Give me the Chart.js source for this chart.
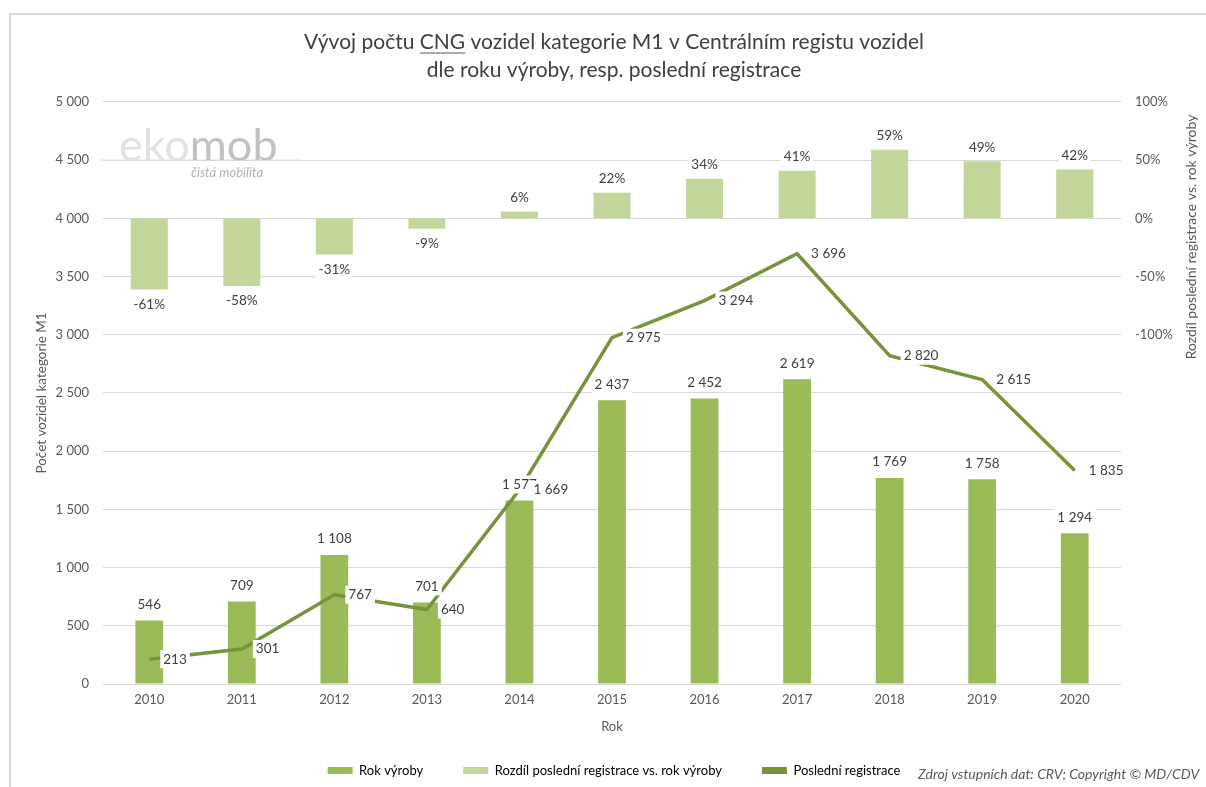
<!DOCTYPE html>
<html><head><meta charset="utf-8">
<script src="https://cdn.jsdelivr.net/npm/chart.js@4.4.1/dist/chart.umd.min.js"></script>
<style>html,body{margin:0;padding:0;background:#fff}#wrap{width:1206px;height:787px;position:relative}</style>
</head><body><div id="wrap"><canvas id="c" width="1206" height="787"></canvas></div>
<script>
const years = ['2010','2011','2012','2013','2014','2015','2016','2017','2018','2019','2020'];
const rokVyroby = [546, 709, 1108, 701, 1577, 2437, 2452, 2619, 1769, 1758, 1294];
const rozdil = [-61, -58, -31, -9, 6, 22, 34, 41, 59, 49, 42];
const posledniRegistrace = [213, 301, 767, 640, 1669, 2975, 3294, 3696, 2820, 2615, 1835];
const titleLines = ['Vývoj počtu CNG vozidel kategorie M1 v Centrálním registu vozidel', 'dle roku výroby, resp. poslední registrace'];
const rightTitle = 'Rozdíl poslední registrace vs. rok výroby';
const sourceText = 'Zdroj vstupních dat: CRV; Copyright © MD/CDV';

const FONT = 'Lato, "Open Sans", sans-serif';
const fmt = v => String(v).replace(/\B(?=(\d{3})+(?!\d))/g, ' ');

function boxLabel(ctx, text, x, y, align){
  const w = ctx.measureText(text).width;
  const left = align === 'left' ? x : x - w/2;
  ctx.fillStyle = '#fff';
  ctx.fillRect(left - 3, y - 9, w + 6, 18);
  ctx.fillStyle = '#404040';
  ctx.textAlign = 'left';
  ctx.textBaseline = 'middle';
  ctx.fillText(text, left, y);
}

const decor = {
  id: 'decor',
  beforeDraw(chart){
    const ctx = chart.ctx;
    ctx.save();
    ctx.strokeStyle = '#d9d9d9';
    ctx.lineWidth = 2;
    ctx.beginPath();
    ctx.moveTo(10, 787); ctx.lineTo(10, 14); ctx.lineTo(1206, 14);
    ctx.stroke();
    // watermark logo
    ctx.strokeStyle = '#ececec';
    ctx.lineWidth = 1.5;
    ctx.beginPath(); ctx.moveTo(100, 160); ctx.lineTo(300, 160); ctx.stroke();
    ctx.font = '45px ' + FONT;
    ctx.textBaseline = 'alphabetic';
    ctx.textAlign = 'left';
    ctx.fillStyle = '#e2e2e2';
    ctx.fillText('eko', 119, 161);
    const w = ctx.measureText('eko').width;
    ctx.fillStyle = '#c2c2c2';
    ctx.fillText('mob', 119 + w, 161);
    ctx.font = 'italic 13px ' + FONT;
    ctx.fillStyle = '#b0b0b0';
    ctx.fillText('čistá mobilita', 191, 177);
    ctx.restore();
  },
  afterDraw(chart){
    const ctx = chart.ctx;
    ctx.save();
    // underline CNG in title
    const tb = chart.titleBlock;
    ctx.font = '21px ' + FONT;
    const full = ctx.measureText(titleLines[0]).width;
    const cx = (tb.left + tb.right) / 2;
    const pre = ctx.measureText('Vývoj počtu ').width;
    const cng = ctx.measureText('CNG').width;
    const x0 = cx - full/2 + pre;
    ctx.strokeStyle = '#595959';
    ctx.lineWidth = 1.2;
    ctx.beginPath();
    ctx.moveTo(x0, 53); ctx.lineTo(x0 + cng, 53);
    ctx.stroke();
    // right axis title (reads upward)
    ctx.save();
    ctx.translate(1191, 237);
    ctx.rotate(-Math.PI/2);
    ctx.font = '14px ' + FONT;
    ctx.fillStyle = '#595959';
    ctx.textAlign = 'center';
    ctx.textBaseline = 'middle';
    ctx.fillText(rightTitle, 0, 0);
    ctx.restore();
    // source
    ctx.font = 'italic 14px ' + FONT;
    ctx.fillStyle = '#595959';
    ctx.textAlign = 'left';
    ctx.textBaseline = 'middle';
    ctx.fillText(sourceText, 918, 774);
    ctx.restore();
  },
  afterDatasetsDraw(chart){
    const ctx = chart.ctx;
    ctx.save();
    ctx.font = '13.5px ' + FONT;
    const m0 = chart.getDatasetMeta(0);
    m0.data.forEach((el, i) => boxLabel(ctx, fmt(rokVyroby[i]), el.x, el.y - 16, 'center'));
    const m1 = chart.getDatasetMeta(1);
    m1.data.forEach((el, i) => {
      const v = rozdil[i];
      boxLabel(ctx, v + '%', el.x, v >= 0 ? el.y - 14 : el.y + 15, 'center');
    });
    const m2 = chart.getDatasetMeta(2);
    m2.data.forEach((el, i) => boxLabel(ctx, fmt(posledniRegistrace[i]), el.x + 14, el.y, 'left'));
    ctx.restore();
  }
};

new Chart(document.getElementById('c'), {
  data: {
    labels: years,
    datasets: [
      {type: 'bar', label: 'Rok výroby', data: rokVyroby, backgroundColor: '#9BBB59', yAxisID: 'y', grouped: false, order: 2, barPercentage: 0.3, categoryPercentage: 1},
      {type: 'bar', label: 'Rozdíl poslední registrace vs. rok výroby', data: rozdil, backgroundColor: '#C3D69B', yAxisID: 'y1', grouped: false, order: 3, barPercentage: 0.4, categoryPercentage: 1},
      {type: 'line', label: 'Poslední registrace', data: posledniRegistrace, borderColor: '#77933C', backgroundColor: '#77933C', borderWidth: 3.5, pointRadius: 0, yAxisID: 'y', order: 1, tension: 0}
    ]
  },
  plugins: [decor],
  options: {
    responsive: false,
    animation: false,
    layout: {padding: {left: 30, right: 8, top: 0, bottom: 0}},
    plugins: {
      tooltip: {enabled: false},
      title: {display: true, text: titleLines, color: '#404040', font: {family: FONT, size: 21, weight: 'normal', lineHeight: 1.333}, padding: {top: 28, bottom: 18}},
      legend: {
        position: 'bottom',
        sort: (a, b) => a.datasetIndex - b.datasetIndex,
        labels: {
          color: '#595959', font: {family: FONT, size: 13}, boxWidth: 25, boxHeight: 7, padding: 40,
          generateLabels(chart){
            return chart.data.datasets.map((d, i) => ({text: d.label, fillStyle: d.type === 'line' ? d.borderColor : d.backgroundColor, strokeStyle: d.type === 'line' ? d.borderColor : d.backgroundColor, lineWidth: 0, datasetIndex: i, hidden: false}));
          }
        }
      }
    },
    scales: {
      x: {
        grid: {display: false, drawTicks: false},
        border: {display: false},
        ticks: {color: '#595959', font: {family: FONT, size: 13}, padding: 8},
        title: {display: true, text: 'Rok', color: '#595959', font: {family: FONT, size: 13}, padding: {top: 0, bottom: -11}},
        afterFit(s){ s.height = 40; }
      },
      y: {
        position: 'left', min: 0, max: 5000,
        grid: {color: '#d9d9d9', drawTicks: false},
        border: {display: false},
        ticks: {stepSize: 500, color: '#595959', font: {family: FONT, size: 13}, padding: 14, callback: v => fmt(v)},
        title: {display: true, text: 'Počet vozidel kategorie M1', color: '#595959', font: {family: FONT, size: 13.5}, padding: {top: 4, bottom: 0}},
        afterFit(s){ s.width = 73; }
      },
      y1: {
        position: 'right', min: -400, max: 100,
        grid: {display: false, drawTicks: false},
        border: {display: false},
        ticks: {stepSize: 50, color: '#595959', font: {family: FONT, size: 13}, padding: 14, callback: v => v >= -100 ? v + '%' : null},
        afterFit(s){ s.width = 77; }
      }
    }
  }
});
</script></body></html>
